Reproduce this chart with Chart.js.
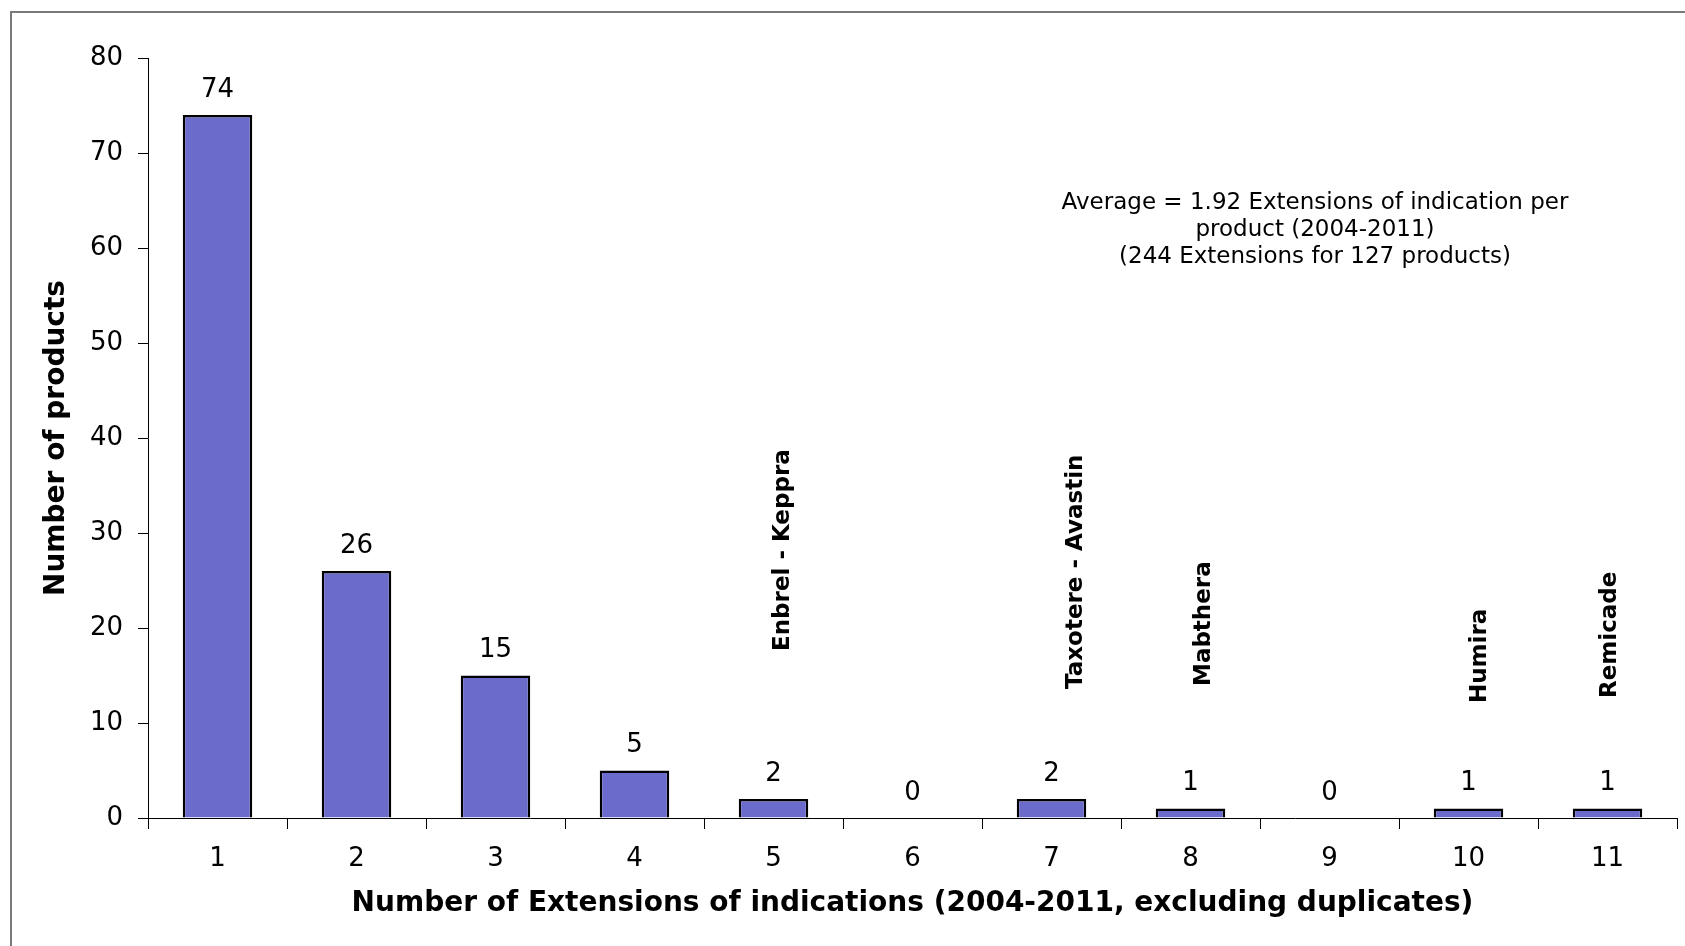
<!DOCTYPE html>
<html>
<head>
<meta charset="utf-8">
<script src="https://cdn.jsdelivr.net/npm/chart.js@4.4.1/dist/chart.umd.min.js"></script>
<style>
  html, body { margin: 0; padding: 0; background: #fff; }
  #wrap { position: relative; width: 1685px; height: 946px; }
  #frame { position: absolute; left: 10px; top: 11px; right: -10px; bottom: -10px;
           border-left: 2px solid #7a7a7a; border-top: 2px solid #7a7a7a; pointer-events: none; }
  canvas { position: absolute; left: 0; top: 0; }
</style>
</head>
<body>
<div id="wrap">
  <canvas id="chartExt" width="1685" height="946"></canvas>
  <div id="frame"></div>
</div>
<script>
// Data
const extensionCounts = ["1", "2", "3", "4", "5", "6", "7", "8", "9", "10", "11"];
const productCounts = [74, 26, 15, 5, 2, 0, 2, 1, 0, 1, 1];
const yTicks = [0, 10, 20, 30, 40, 50, 60, 70, 80];
const productNames = ["", "", "", "", "Enbrel - Keppra", "", "Taxotere - Avastin", "Mabthera", "", "Humira", "Remicade"];
const averageNote = [
    "Average = 1.92 Extensions of indication per",
    "product (2004-2011)",
    "(244 Extensions for 127 products)"
];

const FONT = "'DejaVu Sans', Verdana, sans-serif";

// Where the rotated product names sit (offset from category centre, text bottom in px)
const nameLayout = {
    4: { dx: 10, bottom: 651 },
    6: { dx: 25, bottom: 689 },
    7: { dx: 14, bottom: 686 },
    9: { dx: 12, bottom: 703 },
    10: { dx: 3, bottom: 698 }
};

// Value labels above bars, product names and the average note
const annotations = {
    id: "annotations",
    afterDatasetsDraw(chart) {
        const ctx = chart.ctx;
        const meta = chart.getDatasetMeta(0);
        const xScale = chart.scales.x;
        ctx.save();
        ctx.fillStyle = "#000";

        // bar values
        ctx.font = "26px " + FONT;
        ctx.textAlign = "center";
        ctx.textBaseline = "middle";
        meta.data.forEach((bar, i) => {
            ctx.fillText(String(productCounts[i]), bar.x, bar.y - 25);
        });

        // rotated names
        ctx.font = "bold 23px " + FONT;
        ctx.textAlign = "left";
        productNames.forEach((name, i) => {
            if (!name) return;
            const pos = nameLayout[i];
            const cx = xScale.getPixelForValue(i) + pos.dx;
            ctx.save();
            ctx.translate(cx, pos.bottom);
            ctx.rotate(-Math.PI / 2);
            ctx.fillText(name, 0, 0);
            ctx.restore();
        });

        // average note
        ctx.font = "23px " + FONT;
        ctx.textAlign = "center";
        averageNote.forEach((line, i) => {
            ctx.fillText(line, 1315, 203 + i * 27);
        });
        ctx.restore();
    }
};

const chartExt = new Chart(document.getElementById("chartExt"), {
    type: "bar",
    data: {
        labels: extensionCounts,
        datasets: [{
            data: productCounts,
            backgroundColor: "#6b6bcc",
            borderColor: "#000",
            borderWidth: 2.5,
            borderSkipped: "bottom",
            categoryPercentage: 1.0,
            barPercentage: 0.5
        }]
    },
    options: {
        responsive: false,
        animation: false,
        events: [],
        layout: { padding: { left: 0, top: 58, right: 8, bottom: 0 } },
        plugins: {
            legend: { display: false },
            tooltip: { enabled: false }
        },
        scales: {
            x: {
                grid: { drawOnChartArea: false, drawTicks: true, tickLength: 11, color: "#000", lineWidth: 1 },
                border: { display: true, color: "#000", width: 1 },
                ticks: { color: "#000", font: { family: FONT, size: 26 }, padding: 15 },
                title: {
                    display: true,
                    text: "Number of Extensions of indications (2004-2011, excluding duplicates)",
                    color: "#000",
                    font: { family: FONT, size: 28, weight: "bold" },
                    padding: { top: 0, bottom: 25 }
                },
                afterFit(scale) { scale.height = 128; }
            },
            y: {
                min: 0,
                max: 80,
                afterBuildTicks(scale) { scale.ticks = yTicks.map(v => ({ value: v })); },
                grid: { drawOnChartArea: false, drawTicks: true, tickLength: 10, color: "#000", lineWidth: 1 },
                border: { display: true, color: "#000", width: 1 },
                ticks: { color: "#000", font: { family: FONT, size: 26 }, padding: 15 },
                title: {
                    display: true,
                    text: "Number of products",
                    color: "#000",
                    font: { family: FONT, size: 28, weight: "bold" },
                    padding: { top: 40, bottom: 0 }
                },
                afterFit(scale) { scale.width = 148; }
            }
        }
    },
    plugins: [annotations]
});
</script>
</body>
</html>
